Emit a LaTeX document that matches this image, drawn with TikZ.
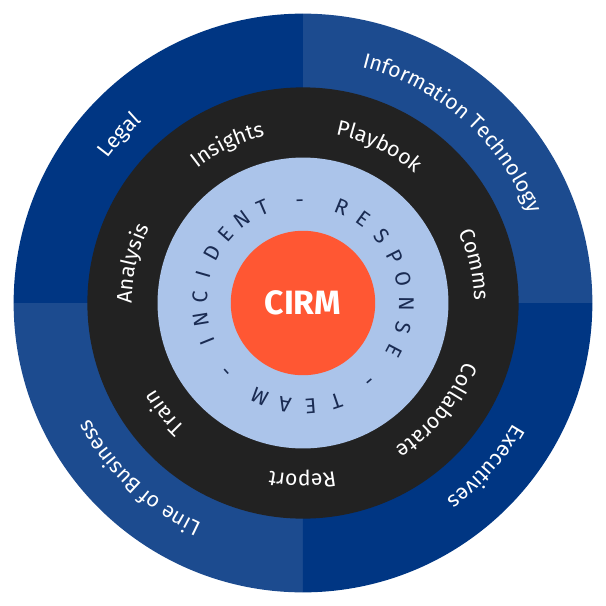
\documentclass[tikz,border=0pt]{standalone}
\usepackage{fontspec}
\setmainfont{Fira Sans}
\usetikzlibrary{decorations.text}
\definecolor{ringdark}{HTML}{003683}
\definecolor{ringmid}{HTML}{1C4B8F}
\definecolor{ringblack}{HTML}{222222}
\definecolor{ringlight}{HTML}{ABC4EA}
\definecolor{cirmorange}{HTML}{FF5733}
\definecolor{teamnavy}{HTML}{1A2B52}
\newcommand\ringfont{\fontsize{12}{14}\selectfont}

\begin{document}
\begin{tikzpicture}[line join=round,line cap=round,
	arclabel/.style={decorate,decoration={text along path,text align=center,text color=white,text={#1}}},
	teamletter/.style={anchor=base,inner sep=0pt,text=teamnavy,font=\fontsize{12}{14}\selectfont}]
	\useasboundingbox (-6,-6) rectangle (6,6);
	\coordinate (O) at (0,0);
	
	\foreach \a/\c in {0/ringmid,90/ringdark,180/ringmid,270/ringdark}
		\fill[\c] (O)--(\a:5.73) arc[start angle=\a,end angle=\a+90,radius=5.73]--cycle;
	\fill[ringblack] (O) circle (4.27);
	\fill[ringlight] (O) circle (2.88);
	\node[circle,fill=cirmorange,minimum size=2.86cm,inner sep=0pt,text=white,font=\bfseries\fontsize{19}{21}\selectfont] (cirm) at (O) {CIRM};
	
	\path[arclabel={|\ringfont|Legal}] (177.5:4.81) arc[start angle=177.5,end angle=97.5,radius=4.81];
	\path[arclabel={|\ringfont|Information Technology}] (88.7:4.81) arc[start angle=88.7,end angle=8.7,radius=4.81];
	\path[arclabel={|\ringfont|Executives}] (-1.8:4.81) arc[start angle=-1.8,end angle=-81.8,radius=4.81];
	\path[arclabel={|\ringfont|Line of Business}] (266.9:4.81) arc[start angle=266.9,end angle=186.9,radius=4.81];
	
	\path[arclabel={|\ringfont|Insights}] (140.5:3.39) arc[start angle=140.5,end angle=90.5,radius=3.39];
	\path[arclabel={|\ringfont|Playbook}] (89.1:3.39) arc[start angle=89.1,end angle=39.1,radius=3.39];
	\path[arclabel={|\ringfont|Comms}] (37.6:3.39) arc[start angle=37.6,end angle=-12.4,radius=3.39];
	\path[arclabel={|\ringfont|Collaborate}] (-13.8:3.39) arc[start angle=-13.8,end angle=-63.8,radius=3.39];
	\path[arclabel={|\ringfont|Report}] (-65.2:3.39) arc[start angle=-65.2,end angle=-115.2,radius=3.39];
	\path[arclabel={|\ringfont|Train}] (-116.6:3.39) arc[start angle=-116.6,end angle=-166.6,radius=3.39];
	\path[arclabel={|\ringfont|Analysis}] (191.9:3.39) arc[start angle=191.9,end angle=141.9,radius=3.39];
	
	\foreach \a/\ch [count=\i] in {202/I,189.3/N,176.6/C,163.9/I,151.2/D,138.5/E,125.8/N,113.1/T,91.8/-,
		68/R,54.3/E,40.6/S,26.9/P,13.2/O,-0.5/N,-14.2/S,-27.9/E,-49.5/-,
		-71.2/T,-85.7/E,-100.2/A,-114.7/M,-137.8/-}
		\node[teamletter,rotate=\a-90] (team\i) at (\a:1.9) {\ch};
\end{tikzpicture}
\end{document}
